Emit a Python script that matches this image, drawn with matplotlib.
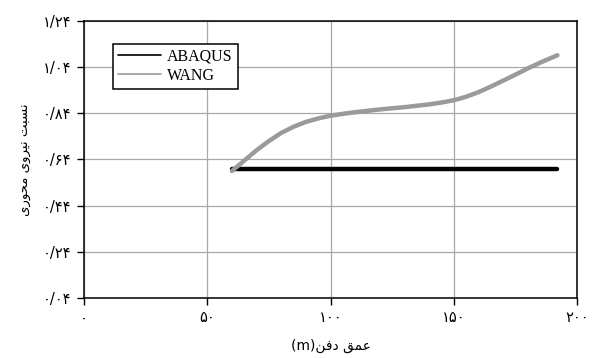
import matplotlib.pyplot as plt

# depth of burial (m) and axial force ratio
depth = [60, 65, 70, 75, 80, 85, 90, 95, 100, 105, 110, 115, 120, 125, 130,
         135, 140, 145, 150, 155, 160, 165, 170, 175, 180, 185, 190, 192]
wang = [0.59, 0.635, 0.68, 0.72, 0.755, 0.782, 0.803, 0.818, 0.83, 0.838,
        0.845, 0.851, 0.857, 0.862, 0.867, 0.873, 0.879, 0.887, 0.897, 0.912,
        0.932, 0.956, 0.982, 1.008, 1.035, 1.06, 1.083, 1.092]
abaqus_depth = [60, 192]
abaqus = [0.60, 0.60]

x_ticks = [0, 50, 100, 150, 200]
x_labels = ['\u06f0', '\u06f5\u06f0', '\u06f1\u06f0\u06f0', '\u06f1\u06f5\u06f0', '\u06f2\u06f0\u06f0']
y_ticks = [0.04, 0.24, 0.44, 0.64, 0.84, 1.04, 1.24]
y_labels = ['\u06f0/\u06f0\u06f4', '\u06f0/\u06f2\u06f4', '\u06f0/\u06f4\u06f4', '\u06f0/\u06f6\u06f4',
            '\u06f0/\u06f8\u06f4', '\u06f1/\u06f0\u06f4', '\u06f1/\u06f2\u06f4']

# persian labels written in shaped presentation forms, visual order
y_title = ('\ufeef\ufead\ufeee\ufea4\ufee3' + ' ' +
           '\ufeef\ufeed\ufeae\ufef4\ufee7' + ' ' +
           '\ufe96\ufe92\ufeb4\ufee7')
x_title = '(m)' + '\ufee6\ufed3\ufea9' + ' ' + '\ufed6\ufee4\ufecb'

fig = plt.figure(figsize=(5.95, 3.58), dpi=100)
ax = fig.add_axes([0.141, 0.168, 0.829, 0.773])

ax.plot(abaqus_depth, abaqus, color='black', lw=3.2, solid_capstyle='round', label='ABAQUS', zorder=3)
ax.plot(depth, wang, color='#9a9a9a', lw=3.2, solid_capstyle='round', solid_joinstyle='round',
        label='WANG', zorder=4)

ax.set_xlim(0, 200)
ax.set_ylim(0.04, 1.24)
ax.set_xticks(x_ticks)
ax.set_xticklabels(x_labels, fontsize=10.5)
ax.set_yticks(y_ticks)
ax.set_yticklabels(y_labels, fontsize=10.5)
ax.tick_params(direction='out', length=5, width=1, color='black', pad=4)
ax.grid(True, color='#a8a8a8', lw=0.9)
ax.set_axisbelow(True)
for s in ax.spines.values():
    s.set_color('black')
    s.set_linewidth(1.1)

ax.set_ylabel(y_title, fontsize=9.5, labelpad=8)
ax.set_xlabel(x_title, fontsize=10, labelpad=10)

leg = ax.legend(loc='upper left', bbox_to_anchor=(0.059, 0.917), fancybox=False,
                framealpha=1, edgecolor='black', handlelength=2.7,
                prop={'family': 'Liberation Serif', 'size': 11.5},
                borderpad=0.3, labelspacing=0.2, handletextpad=0.4, borderaxespad=0)
leg.get_frame().set_linewidth(1.1)
for h in leg.get_lines():
    h.set_linewidth(1.2)

fig.savefig('out.png', dpi=100)
